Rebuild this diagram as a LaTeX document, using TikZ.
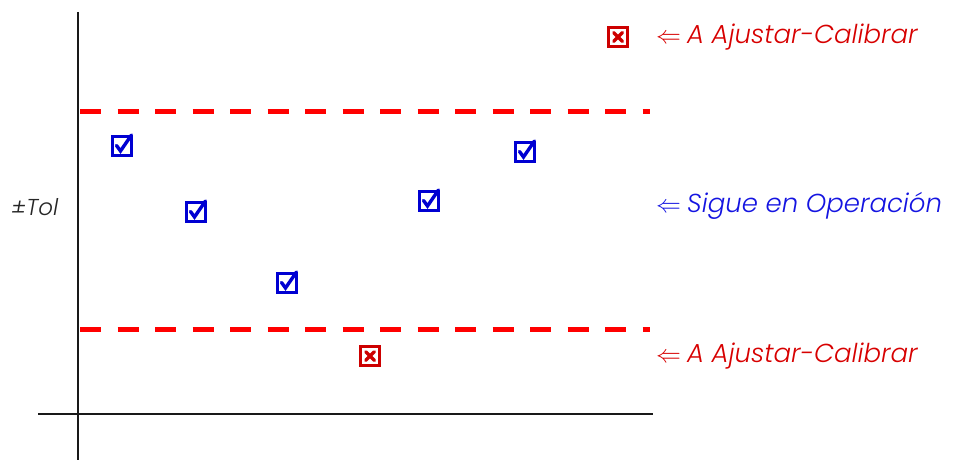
\documentclass[tikz,border=0pt]{standalone}
\usepackage{fontspec}
\setmainfont{Poppins}[UprightFont=* Light, ItalicFont=* Light Italic]
\definecolor{okblue}{RGB}{0,0,210}
\definecolor{badred}{RGB}{205,0,0}
\definecolor{lblred}{RGB}{215,0,0}
\definecolor{lblblue}{RGB}{20,20,225}
\tikzset{
  okmark/.style={draw=okblue,line width=2.4pt,minimum size=19pt,inner sep=0pt},
  checkline/.style={okblue,line width=3.4pt,line cap=round,line join=miter},
  badmark/.style={draw=badred,line width=2.4pt,minimum size=19pt,inner sep=0pt},
  crossline/.style={badred,line width=3.4pt,line cap=round}}
\newcommand\okbox[2]{%
  \node[okmark] (#1) at #2 {};
  \draw[checkline] ([shift={(-5.5pt,0.5pt)}]#1.center)
    -- ([shift={(-1.5pt,-5pt)}]#1.center)
    -- ([shift={(9.5pt,11pt)}]#1.center);}
\newcommand\badbox[2]{%
  \node[badmark] (#1) at #2 {};
  \draw[crossline] ([shift={(-4.3pt,-4.3pt)}]#1.center)
    -- ([shift={(4.3pt,4.3pt)}]#1.center)
    ([shift={(-4.3pt,4.3pt)}]#1.center)
    -- ([shift={(4.3pt,-4.3pt)}]#1.center);}
\begin{document}
\begin{tikzpicture}[x=1pt,y=-1pt,
  axis/.style={line width=2.5pt,black!90},
  limit/.style={line width=5pt,red,dash pattern=on 21pt off 16.5pt},
  lbl/.style={anchor=west,font=\fontsize{26}{26}\selectfont\itshape,inner sep=0pt}]
\useasboundingbox (0,0) rectangle (953,460);
% axes
\coordinate (ytop) at (78,12);
\coordinate (ybot) at (78,460);
\coordinate (xl) at (38,414);
\coordinate (xr) at (653,414);
\draw[axis] (ytop) -- (ybot);
\draw[axis] (xl) -- (xr);
% limits
\coordinate (u1) at (80,111);
\coordinate (u2) at (650,111);
\coordinate (l1) at (80,329);
\coordinate (l2) at (650,329);
\draw[limit] (u1) -- (u2);
\draw[limit] (l1) -- (l2);
% marks
\okbox{c1}{(122,146)}
\okbox{c2}{(196,212)}
\okbox{c3}{(287,283)}
\okbox{c4}{(429,201)}
\okbox{c5}{(525,152)}
\badbox{x1}{(618,37)}
\badbox{x2}{(370,356)}
% labels
\node[lbl,text=lblred] (t1) at (656,37) {$\Leftarrow$\hspace{6pt}A Ajustar-Calibrar};
\node[lbl,text=lblblue] (t2) at (656,206) {$\Leftarrow$\hspace{6pt}Sigue en Operación};
\node[lbl,text=lblred] (t3) at (656,356) {$\Leftarrow$\hspace{6pt}A Ajustar-Calibrar};
\node[lbl,text=black!85,font=\fontsize{23}{23}\selectfont\itshape] (tol) at (11,207) {±Tol};
\end{tikzpicture}
\end{document}
